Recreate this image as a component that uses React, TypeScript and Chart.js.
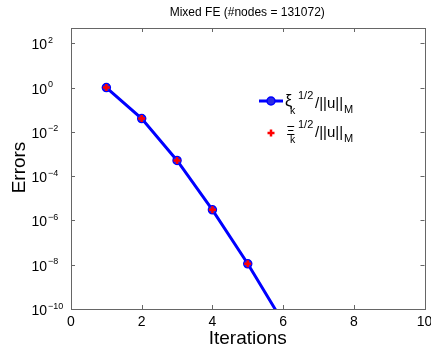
import React, { useEffect, useRef } from "react";
import { Chart, registerables } from "chart.js";

Chart.register(...registerables);

const iterations = [1, 2, 3, 4, 5, 6];
const xiErrors = [1.0, 0.04, 5.1e-4, 3.0e-6, 1.1e-8, 2.5e-11];
const bigXiErrors = [1.0, 0.04, 5.1e-4, 3.0e-6, 1.1e-8, 2.5e-11];
const xTicks = [0, 2, 4, 6, 8, 10];
const yExponents = [-10, -8, -6, -4, -2, 0, 2];
const titleText = "Mixed FE (#nodes = 131072)";
const xTitle = "Iterations";
const yTitle = "Errors";

const FONT = '"Liberation Sans", Arial, Helvetica, sans-serif';
const BLUE = "#0000ff";
const FILL = "#2a2ae6";
const RED = "#ff0000";
const AXIS = "#666666";

const decorPlugin = {
  id: "decor",
  afterDatasetsDraw(chart: any) {
    const ctx = chart.ctx as CanvasRenderingContext2D;
    const { left, right, top, bottom } = chart.chartArea;
    const xs = chart.scales.x;
    const ys = chart.scales.y;
    ctx.save();
    // box
    ctx.strokeStyle = AXIS;
    ctx.lineWidth = 1;
    ctx.strokeRect(Math.round(left) + 0.5, Math.round(top) + 0.5, Math.round(right - left), Math.round(bottom - top));
    // ticks
    const tl = 4;
    ctx.beginPath();
    for (const v of xTicks) {
      const px = Math.round(xs.getPixelForValue(v)) + 0.5;
      ctx.moveTo(px, bottom);
      ctx.lineTo(px, bottom - tl);
      ctx.moveTo(px, top);
      ctx.lineTo(px, top + tl);
    }
    for (const e of yExponents) {
      const py = Math.round(ys.getPixelForValue(Math.pow(10, e))) + 0.5;
      ctx.moveTo(left, py);
      ctx.lineTo(left + tl, py);
      ctx.moveTo(right, py);
      ctx.lineTo(right - tl, py);
    }
    ctx.stroke();

    ctx.fillStyle = "#000";
    // x tick labels
    ctx.font = `14px ${FONT}`;
    ctx.textAlign = "center";
    ctx.textBaseline = "alphabetic";
    for (const v of xTicks) {
      const px = xs.getPixelForValue(v);
      ctx.fillText(String(v), px, bottom + 17);
    }
    // y tick labels
    for (const e of yExponents) {
      const py = ys.getPixelForValue(Math.pow(10, e));
      ctx.textAlign = "left";
      ctx.font = `14px ${FONT}`;
      ctx.fillText("10", 31.5, py + 6);
      const w = ctx.measureText("10").width;
      ctx.font = `9px ${FONT}`;
      ctx.fillText(e < 0 ? "\u2212" + String(-e) : String(e), 31.5 + w + 1, py - 0.5);
    }
    // axis titles
    ctx.font = `19px ${FONT}`;
    ctx.textAlign = "center";
    ctx.fillText(xTitle, (left + right) / 2, bottom + 35);
    ctx.save();
    ctx.translate(25, (top + bottom) / 2 - 1);
    ctx.rotate(-Math.PI / 2);
    ctx.fillText(yTitle, 0, 0);
    ctx.restore();
    // title
    ctx.font = `12px ${FONT}`;
    ctx.fillText(titleText, (left + right) / 2 - 0.5, 16);

    // legend
    const lx0 = 259;
    const lx1 = 283;
    const ly = 101;
    ctx.strokeStyle = BLUE;
    ctx.lineWidth = 3;
    ctx.beginPath();
    ctx.moveTo(lx0, ly);
    ctx.lineTo(lx1, ly);
    ctx.stroke();
    ctx.beginPath();
    ctx.arc((lx0 + lx1) / 2, ly, 4, 0, Math.PI * 2);
    ctx.fillStyle = FILL;
    ctx.fill();
    ctx.lineWidth = 1.5;
    ctx.strokeStyle = BLUE;
    ctx.stroke();
    // red plus
    const px = (lx0 + lx1) / 2;
    const py = 133;
    ctx.strokeStyle = RED;
    ctx.lineWidth = 2.5;
    ctx.beginPath();
    ctx.moveTo(px - 3.5, py);
    ctx.lineTo(px + 3.5, py);
    ctx.moveTo(px, py - 3.5);
    ctx.lineTo(px, py + 3.5);
    ctx.stroke();

    ctx.fillStyle = "#000";
    ctx.textAlign = "left";
    const entries = [
      { sym: "\u03BE", symSize: 16, symX: 285, symBase: 106, dy: 0 },
      { sym: "\u039E", symSize: 13, symX: 286.5, symBase: 135, dy: 29 },
    ];
    for (const en of entries) {
      const base = 108 + en.dy;
      ctx.font = `${en.symSize}px ${FONT}`;
      ctx.fillText(en.sym, en.symX, en.symBase);
      ctx.font = `10.5px ${FONT}`;
      ctx.fillText("k", 290, base + 6);
      ctx.font = `11px ${FONT}`;
      ctx.fillText("1/2", 298, base - 9);
      ctx.font = `15px ${FONT}`;
      ctx.fillText("/||u||", 315, base);
      const w = ctx.measureText("/||u||").width;
      ctx.font = `11px ${FONT}`;
      ctx.fillText("M", 315 + w + 1, base + 4.5);
    }
    ctx.restore();
  },
};

export default function App() {
  const ref = useRef<HTMLCanvasElement | null>(null);
  useEffect(() => {
    if (!ref.current) return;
    const chart = new Chart(ref.current, {
      type: "line",
      data: {
        labels: iterations,
        datasets: [
          {
            label: "xi",
            data: iterations.map((x, i) => ({ x, y: xiErrors[i] })),
            borderColor: BLUE,
            borderWidth: 3,
            backgroundColor: FILL,
            pointBackgroundColor: FILL,
            pointBorderColor: BLUE,
            pointBorderWidth: 1.5,
            pointRadius: 4,
            pointStyle: "circle",
            tension: 0,
            clip: 0,
            order: 2,
          },
          {
            label: "Xi",
            data: iterations.map((x, i) => ({ x, y: bigXiErrors[i] })),
            showLine: false,
            borderColor: RED,
            pointBorderColor: RED,
            pointBorderWidth: 2.5,
            pointRadius: 3.5,
            pointStyle: "cross",
            clip: 0,
            order: 1,
          },
        ],
      },
      options: {
        animation: false,
        responsive: false,
        maintainAspectRatio: false,
        events: [],
        layout: { padding: { left: 0, right: 6, top: 28, bottom: 0 } },
        plugins: {
          legend: { display: false },
          title: { display: false },
          tooltip: { enabled: false },
        },
        scales: {
          x: {
            type: "linear",
            min: 0,
            max: 10,
            grid: { display: false },
            border: { display: false },
            ticks: { display: false },
            afterFit: (s: any) => {
              s.height = 43;
            },
          },
          y: {
            type: "logarithmic",
            min: 1e-10,
            max: 490,
            grid: { display: false },
            border: { display: false },
            ticks: { display: false },
            afterFit: (s: any) => {
              s.width = 71;
            },
          },
        },
      },
      plugins: [decorPlugin],
    });
    return () => chart.destroy();
  }, []);
  return (
    <div style={{ position: "fixed", left: 0, top: 0, width: 431, height: 352, background: "#fff" }}>
      <canvas ref={ref} width={431} height={352} style={{ width: 431, height: 352, display: "block" }} />
    </div>
  );
}
